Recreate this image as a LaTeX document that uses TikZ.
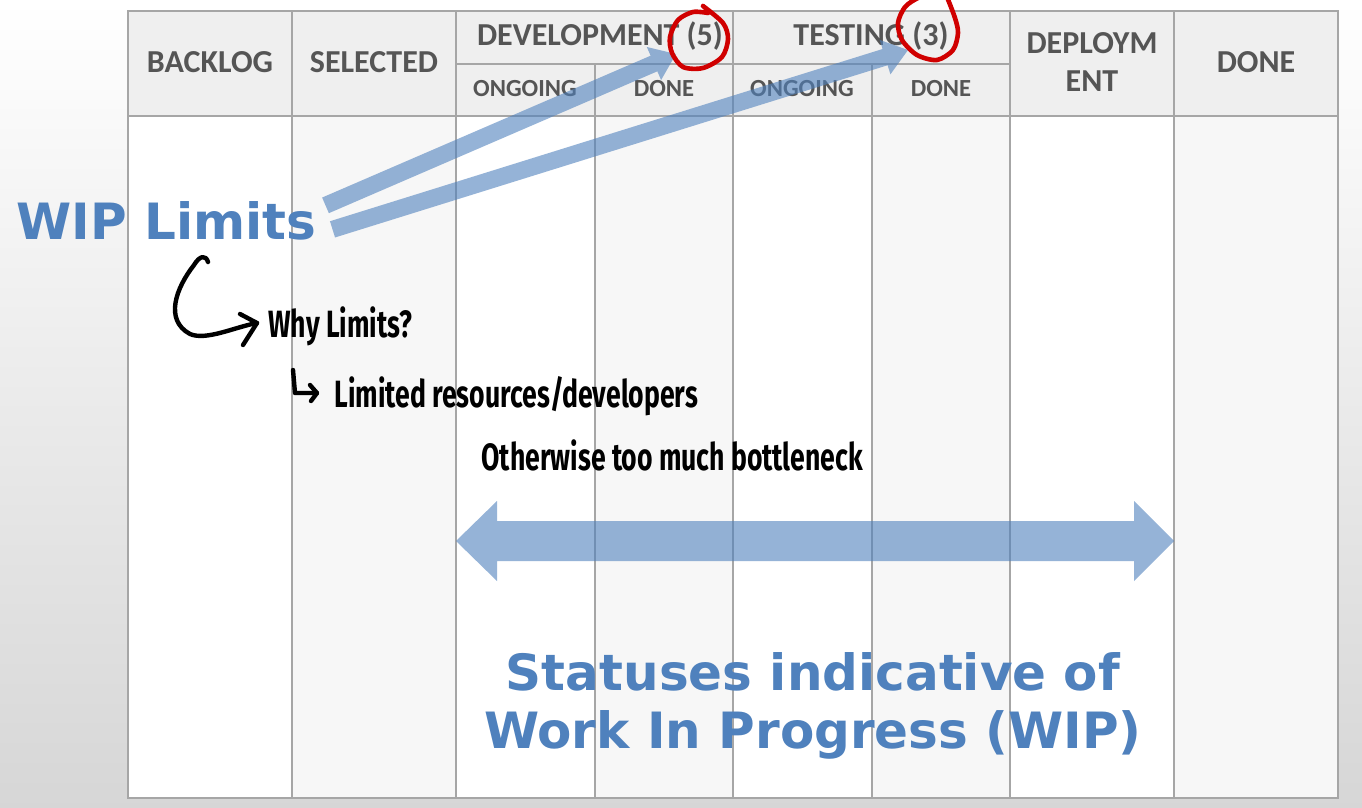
\documentclass[tikz,border=0pt]{standalone}
\usepackage{fontspec}
\setmainfont{Carlito}
\newfontfamily\headfont{Carlito}
\newfontfamily\bigfont{DejaVu Sans}
\newfontfamily\hand[FakeStretch=0.7]{Fira Sans}
\usetikzlibrary{calc}
\definecolor{wipblue}{HTML}{4F81BD}
\definecolor{headgray}{HTML}{555555}
\definecolor{gridcol}{HTML}{A6A6A6}
\definecolor{headfill}{HTML}{EFEFEF}
\definecolor{colfill}{HTML}{F7F7F7}
\definecolor{penred}{HTML}{D00000}
% fat arrow: #1 start, #2 end, #3 half shaft, #4 half head, #5 head length
\newcommand\fatarrow[5]{%
  \coordinate (fa-b) at ($(#2)!#5!(#1)$);
  \fill[wiparrow] ($(#1)!#3!90:(#2)$) -- ($(fa-b)!#3!-90:(#1)$) -- ($(fa-b)!#4!-90:(#1)$) -- (#2)
    -- ($(fa-b)!#4!90:(#1)$) -- ($(fa-b)!#3!90:(#1)$) -- ($(#1)!#3!-90:(#2)$) -- cycle;}
\begin{document}
\begin{tikzpicture}[x=0.5pt,y=-0.5pt,
  hd/.style={font=\headfont\bfseries\fontsize{16}{19}\selectfont, text=headgray, anchor=base, inner sep=0pt},
  sub/.style={font=\headfont\bfseries\fontsize{12.3}{14}\selectfont, text=headgray, anchor=base, inner sep=0pt},
  gridln/.style={draw=gridcol, line width=1.1pt},
  wiparrow/.style={fill=wipblue, fill opacity=0.6},
  big/.style={font=\bigfont\bfseries\fontsize{25}{29}\selectfont, text=wipblue, inner sep=0pt, anchor=base},
  handtext/.style={font=\hand\bfseries\fontsize{19}{22}\selectfont, anchor=base west, inner sep=0pt},
  pen/.style={draw=black, line width=2.2pt, line cap=round, line join=round},
  redpen/.style={draw=penred, line width=2.3pt, line cap=round, line join=round}
]
\useasboundingbox (0,0) rectangle (1362,808);
\clip (0,0) rectangle (1362,808);
\shade[top color=white, bottom color=black!16] (0,0) rectangle (1362,808);

% table fills
\fill[headfill] (128,11) rectangle (1338,116);
\fill[white] (128,116) rectangle (1338,798);
\foreach \a/\b in {292/456, 595/733, 872/1010, 1174/1338}
  \fill[colfill] (\a,116) rectangle (\b,798);

% grid
\draw[gridln] (128,11) rectangle (1338,798);
\draw[gridln] (128,116) -- (1338,116);
\draw[gridln] (456,64) -- (1010,64);
\foreach \x in {292,456,733,1010,1174} \draw[gridln] (\x,11) -- (\x,798);
\foreach \x in {595,872} \draw[gridln] (\x,64) -- (\x,798);

% header texts
\node[hd] (backlog) at (210,73) {BACKLOG};
\node[hd] (selected) at (374,73) {SELECTED};
\node[hd] (dev) at (600,46) {DEVELOPMENT (5)};
\node[hd] (test) at (871,46) {TESTING (3)};
\node[hd] (deploy1) at (1092,54) {DEPLOYM};
\node[hd] (deploy2) at (1092,92) {ENT};
\node[hd] (done) at (1256,73) {DONE};
\node[sub] (devong) at (525,97) {ONGOING};
\node[sub] (devdone) at (664,97) {DONE};
\node[sub] (testong) at (802,97) {ONGOING};
\node[sub] (testdone) at (941,97) {DONE};

% WIP limits label
\node[big, anchor=base west] (wip) at (16,240) {WIP Limits};

% diagonal arrows
\coordinate (a1s) at ($(wip.east)+(9,-16)$);
\coordinate (a1e) at (676,54);
\coordinate (a2s) at ($(wip.east)+(16,8)$);
\coordinate (a2e) at (908,50);
\fatarrow{a1s}{a1e}{4.25pt}{9pt}{12pt}
\fatarrow{a2s}{a2e}{4.25pt}{9pt}{12pt}

% double arrow
\coordinate (wl) at (456,541);
\coordinate (wr) at (1174,541);
\fill[wiparrow] (wl) -- ($(wl)+(41,-40)$) -- ($(wl)+(41,-20)$) -- ($(wr)+(-40,-20)$) -- ($(wr)+(-40,-40)$)
  -- (wr) -- ($(wr)+(-40,40)$) -- ($(wr)+(-40,20)$) -- ($(wl)+(41,20)$) -- ($(wl)+(41,40)$) -- cycle;

% bottom text
\node[big] (st1) at (813,690) {Statuses indicative of};
\node[big] (st2) at (813,748) {Work In Progress (WIP)};

% handwriting
\draw[pen] (208,262) .. controls (206,255) and (200,255) .. (194,265)
  .. controls (176,288) and (164,320) .. (190,334)
  .. controls (206,341) and (235,327) .. (257,323);
\draw[pen] (240,314) -- (257,323) -- (243,345);
\node[handtext] (why) at (268,337) {Why Limits?};
\draw[pen] (293,370) -- (295,393) -- (317,393);
\draw[pen] (310,385) -- (317,393) -- (311,401);
\node[handtext] (limited) at (334,408) {Limited resources/developers};
\node[handtext] (other) at (481,470) {Otherwise too much bottleneck};

% red circles
\draw[redpen] plot[smooth] coordinates {(703,6) (723,23) (728,39) (722,57) (703,68) (683,67) (672,53) (670,37) (678,20) (693,12) (708,13)};
\draw[redpen] plot[smooth] coordinates {(947,-3) (955,18) (958,33) (953,50) (937,60) (917,55) (902,40) (898,23) (905,7) (918,-2) (932,-6)};
\end{tikzpicture}
\end{document}
